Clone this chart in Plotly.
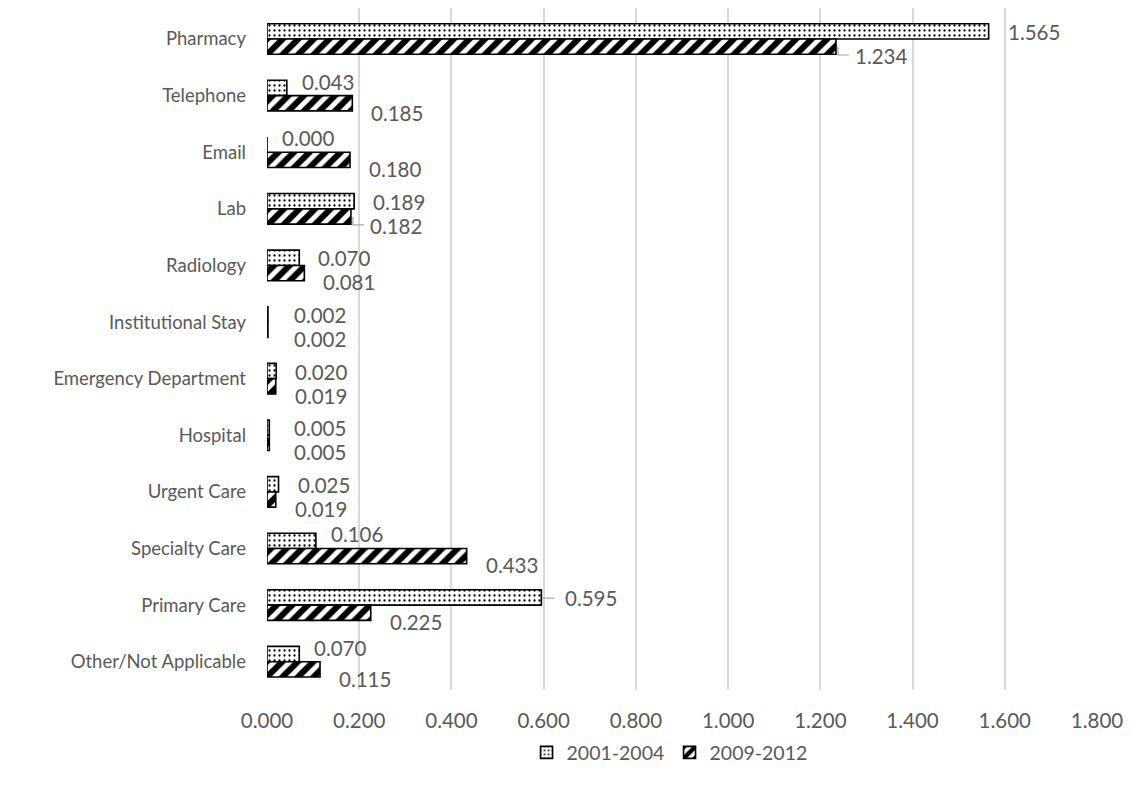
import plotly.graph_objects as go

# Service categories, listed top to bottom
categories = [
    "Pharmacy", "Telephone", "Email", "Lab", "Radiology", "Institutional Stay",
    "Emergency Department", "Hospital", "Urgent Care", "Specialty Care",
    "Primary Care", "Other/Not Applicable",
]
period_a = "2001-2004"
period_b = "2009-2012"
values_a = [1.565, 0.043, 0.000, 0.189, 0.070, 0.002, 0.020, 0.005, 0.025, 0.106, 0.595, 0.070]
values_b = [1.234, 0.185, 0.180, 0.182, 0.081, 0.002, 0.019, 0.005, 0.019, 0.433, 0.225, 0.115]
x_ticks = [0.0, 0.2, 0.4, 0.6, 0.8, 1.0, 1.2, 1.4, 1.6, 1.8]

TEXT = "#595959"
FONT = "Lato"
W, H = 1131, 788
M_L, M_R, M_T, M_B = 267, 32, 8, 98
X_MAX = 1.8
px_per_unit = (W - M_L - M_R) / X_MAX

fig = go.Figure()
fig.add_trace(go.Bar(
    y=categories, x=values_a, name=period_a, orientation="h",
    marker=dict(color="white", line=dict(color="black", width=1.6),
                pattern=dict(shape=".", fgcolor="black", bgcolor="white",
                             fgopacity=1, size=5, solidity=0.16)),
))
fig.add_trace(go.Bar(
    y=categories, x=values_b, name=period_b, orientation="h",
    marker=dict(color="white", line=dict(color="black", width=1.6),
                pattern=dict(shape="/", fgcolor="black", bgcolor="white",
                             fgopacity=1, size=11, solidity=0.55)),
))

# Value labels beside each bar: upper one for the first period, lower for the second.
# A first-period label that would run into the longer second bar is lifted higher.
annotations = []
leaders = {(0, 1), (3, 1), (10, 0)}  # (category index, series) labels pulled out with a leader line
for i, (va, vb) in enumerate(zip(values_a, values_b)):
    lifted = (va * px_per_unit + 17) < vb * px_per_unit
    for s, v in enumerate((va, vb)):
        if s == 0:
            dy = -14 if lifted else -7
            shift = 13 if lifted else max(22 if (i, s) in leaders else 17, 25 - v * px_per_unit)
        else:
            dy = 17
            shift = max(17, 25 - v * px_per_unit)
        annotations.append(dict(
            x=v, y=categories[i], text=f"{v:.3f}", showarrow=False,
            xanchor="left", yanchor="middle", xshift=shift, yshift=-dy,
            font=dict(family=FONT, size=20.5, color=TEXT),
        ))

# Elbow leader lines from bar end to the pulled-out labels (pixel offsets, up is positive)
shapes = []
for i, s in leaders:
    v = (values_a if s == 0 else values_b)[i]
    if s == 0:
        path = "M 1,7 L 13,7"
    else:
        path = "M 2,-8 L 2,-16 L 13,-16"
    shapes.append(dict(
        type="path", xref="x", yref="y", xsizemode="pixel", ysizemode="pixel",
        xanchor=v, yanchor=i, path=path, line=dict(color="#a6a6a6", width=1.2),
    ))

fig.update_layout(
    width=W, height=H,
    margin=dict(l=M_L, r=M_R, t=M_T, b=M_B),
    paper_bgcolor="white", plot_bgcolor="white",
    barmode="group", bargap=0.46, bargroupgap=0,
    font=dict(family=FONT, size=18.5, color=TEXT),
    xaxis=dict(range=[0, X_MAX], tickvals=x_ticks, tickformat=".3f",
               showgrid=True, gridcolor="#d9d9d9", gridwidth=1.5,
               zeroline=False, showline=False, ticks="",
               tickfont=dict(family=FONT, size=20.5, color=TEXT),
               ticklabelstandoff=16),
    yaxis=dict(autorange="reversed", showgrid=False, showline=False, ticks="",
               tickfont=dict(family=FONT, size=18.5, color=TEXT),
               ticklabelstandoff=20),
    legend=dict(orientation="h", x=0.485, xanchor="center", y=-0.092, yanchor="middle",
                font=dict(family=FONT, size=19.5, color=TEXT), traceorder="normal",
                itemwidth=30, entrywidth=98, entrywidthmode="pixels"),
    annotations=annotations,
    shapes=shapes,
)

fig.write_html("out.html")
